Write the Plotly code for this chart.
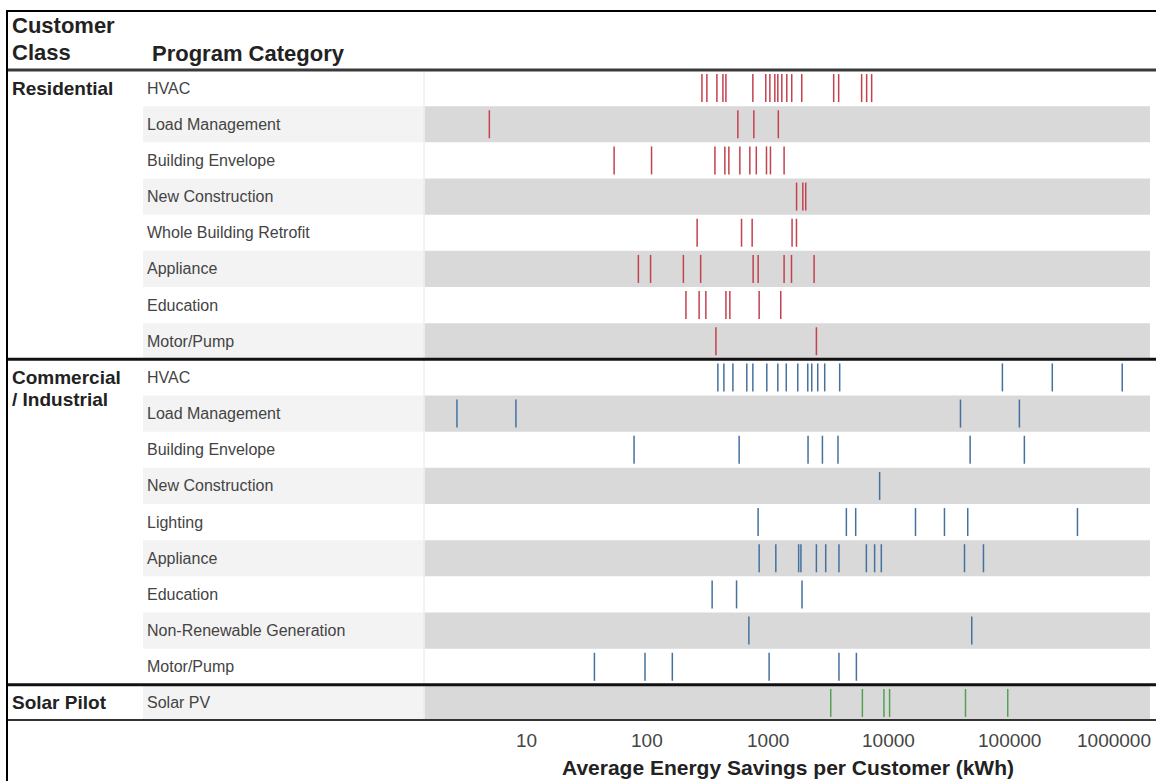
import math
import plotly.graph_objects as go

# Average energy savings per customer (kWh), one list per program row
res_hvac = [285, 313, 379, 425, 450, 752, 962, 1040, 1143, 1210, 1306, 1436, 1578, 1910, 3510, 3860, 5980, 6580, 7240]
res_load_mgmt = [4.95, 565, 766, 1222]
res_envelope = [53.4, 109, 365, 441, 476, 587, 710, 803, 975, 1052, 1364]
res_new_constr = [1730, 1950, 2060]
res_retrofit = [260, 606, 742, 1588, 1727]
res_appliance = [84.8, 107, 200, 278, 756, 832, 1364, 1571, 2416]
res_education = [210, 270, 307, 450, 485, 848, 1280]
res_motor = [372, 2525]

com_hvac = [386, 433, 514, 670, 752, 981, 1210, 1422, 1770, 2142, 2311, 2590, 2958, 3935, 87500, 226500, 859000]
com_load_mgmt = [2.67, 8.22, 39350, 121000]
com_envelope = [78.1, 579, 2153, 2832, 3810, 47300, 133000]
com_new_constr = [8430]
com_lighting = [831, 4470, 5340, 16700, 29000, 45200, 366000]
com_appliance = [848, 1165, 1800, 1880, 2525, 3015, 3882, 6545, 7660, 8705, 42500, 61000]
com_education = [346, 551, 1920]
com_nonrenew = [697, 48800]
com_motor = [36.7, 96.2, 162, 1025, 3882, 5410]

solar_pv = [3318, 6065, 9150, 10190, 43300, 96900]

classes = ["Residential", "Commercial / Industrial", "Solar Pilot"]
class_lines = [["Residential"], ["Commercial", "/ Industrial"], ["Solar Pilot"]]
class_colors = ["#c4414e", "#44719e", "#54a054"]

res_categories = ["HVAC", "Load Management", "Building Envelope", "New Construction",
                  "Whole Building Retrofit", "Appliance", "Education", "Motor/Pump"]
com_categories = ["HVAC", "Load Management", "Building Envelope", "New Construction",
                  "Lighting", "Appliance", "Education", "Non-Renewable Generation", "Motor/Pump"]
solar_categories = ["Solar PV"]

res_values = [res_hvac, res_load_mgmt, res_envelope, res_new_constr,
              res_retrofit, res_appliance, res_education, res_motor]
com_values = [com_hvac, com_load_mgmt, com_envelope, com_new_constr,
              com_lighting, com_appliance, com_education, com_nonrenew, com_motor]
solar_values = [solar_pv]

tick_vals = [10, 100, 1000, 10000, 100000, 1000000]
tick_text = ["10", "100", "1000", "10000", "100000", "1000000"]
x_title = "Average Energy Savings per Customer (kWh)"

groups = [
    (res_categories, res_values),
    (com_categories, com_values),
    (solar_categories, solar_values),
]

W, H = 1156, 781
PLOT_L, PLOT_R = 425, 1150
TOP, BOTTOM = 70, 721
LABEL_L = 143
n_rows = sum(len(c) for c, _ in groups)


def px(x):
    return x / W


def py(y):
    return 1 - y / H


FONT = "Liberation Sans, Arial, sans-serif"

fig = go.Figure()
shapes = []
annotations = []

row = 0
for gi, (cats, vals) in enumerate(groups):
    xs, ys = [], []
    start = row
    for cat, v in zip(cats, vals):
        if row % 2 == 1:
            shapes.append(dict(type="rect", xref="x domain", yref="y", x0=0, x1=1,
                               y0=row - 0.5, y1=row + 0.5, fillcolor="#d9d9d9",
                               line_width=0, layer="below"))
            shapes.append(dict(type="rect", xref="paper", yref="y", x0=px(LABEL_L), x1=px(PLOT_L),
                               y0=row - 0.5, y1=row + 0.5, fillcolor="#f3f3f3",
                               line_width=0, layer="below"))
        annotations.append(dict(text=cat, xref="paper", yref="y", x=px(145), y=row,
                                xanchor="left", yanchor="middle", showarrow=False,
                                font=dict(family=FONT, size=16, color="#444444")))
        xs += v
        ys += [row] * len(v)
        row += 1
    # vertical tick marks (line-ns spans 1.4 x size in pixels)
    fig.add_trace(go.Scatter(
        x=xs, y=ys, mode="markers", name=classes[gi], showlegend=False,
        marker=dict(symbol="line-ns", size=20,
                    line=dict(width=1.5, color=class_colors[gi])),
        hovertemplate="%{x:,.0f} kWh<extra></extra>",
    ))
    # class label lines, starting at the top row of the group
    for li, line in enumerate(class_lines[gi]):
        annotations.append(dict(text="<b>%s</b>" % line, xref="paper", yref="y",
                                x=px(10), y=start + li * 0.6, xanchor="left", yanchor="middle",
                                showarrow=False,
                                font=dict(family=FONT, size=19, color="#222222")))
    if gi < len(groups) - 1:
        shapes.append(dict(type="line", xref="paper", yref="y", x0=px(7), x1=1,
                           y0=row - 0.5, y1=row - 0.5, line=dict(color="#111111", width=3)))

# faint divider between label column and plot area
shapes.append(dict(type="line", xref="paper", yref="paper", x0=px(PLOT_L - 1), x1=px(PLOT_L - 1),
                   y0=py(BOTTOM), y1=py(TOP), line=dict(color="#e6e6e6", width=1), layer="below"))
# header rule and bottom rule
shapes.append(dict(type="line", xref="paper", yref="paper", x0=px(7), x1=1,
                   y0=py(TOP), y1=py(TOP), line=dict(color="#3a3a3a", width=3)))
shapes.append(dict(type="line", xref="paper", yref="paper", x0=px(7), x1=1,
                   y0=py(BOTTOM - 1), y1=py(BOTTOM - 1), line=dict(color="#333333", width=2)))
# outer frame: top and left edges
shapes.append(dict(type="line", xref="paper", yref="paper", x0=px(6), x1=1,
                   y0=py(11), y1=py(11), line=dict(color="#000000", width=2)))
shapes.append(dict(type="line", xref="paper", yref="paper", x0=px(7), x1=px(7),
                   y0=0, y1=py(10), line=dict(color="#000000", width=2)))

# header texts
annotations.append(dict(text="<b>Customer</b>", xref="paper", yref="paper", x=px(10), y=py(25),
                        xanchor="left", yanchor="middle", showarrow=False,
                        font=dict(family=FONT, size=22, color="#222222")))
annotations.append(dict(text="<b>Class</b>", xref="paper", yref="paper", x=px(10), y=py(53),
                        xanchor="left", yanchor="middle", showarrow=False,
                        font=dict(family=FONT, size=22, color="#222222")))
annotations.append(dict(text="<b>Program Category</b>", xref="paper", yref="paper", x=px(150), y=py(54),
                        xanchor="left", yanchor="middle", showarrow=False,
                        font=dict(family=FONT, size=22, color="#222222")))

# x tick labels; the last one is kept inside the right edge
for v, t in zip(tick_vals, tick_text):
    if v == tick_vals[-1]:
        annotations.append(dict(text=t, xref="paper", yref="paper", x=px(1153), y=py(740),
                                xanchor="right", yanchor="middle", showarrow=False,
                                font=dict(family=FONT, size=19, color="#444444")))
    else:
        annotations.append(dict(text=t, xref="x", yref="paper", x=math.log10(v), y=py(740),
                                xanchor="center", yanchor="middle", showarrow=False,
                                font=dict(family=FONT, size=19, color="#444444")))

annotations.append(dict(text="<b>%s</b>" % x_title, xref="x domain", yref="paper", x=0.5, y=py(767),
                        xanchor="center", yanchor="middle", showarrow=False,
                        font=dict(family=FONT, size=21, color="#222222")))

fig.update_layout(
    width=W, height=H,
    margin=dict(l=0, r=0, t=0, b=0),
    paper_bgcolor="white", plot_bgcolor="white",
    shapes=shapes, annotations=annotations,
    xaxis=dict(type="log", range=[0.162, 6.164], domain=[px(PLOT_L), px(PLOT_R)],
               showticklabels=False, showgrid=False, zeroline=False, ticks="",
               showline=False, fixedrange=True),
    yaxis=dict(range=[n_rows - 0.5, -0.5], domain=[py(BOTTOM), py(TOP)],
               showticklabels=False, showgrid=False, zeroline=False, ticks="",
               showline=False, fixedrange=True),
)

fig.write_html("out.html")
